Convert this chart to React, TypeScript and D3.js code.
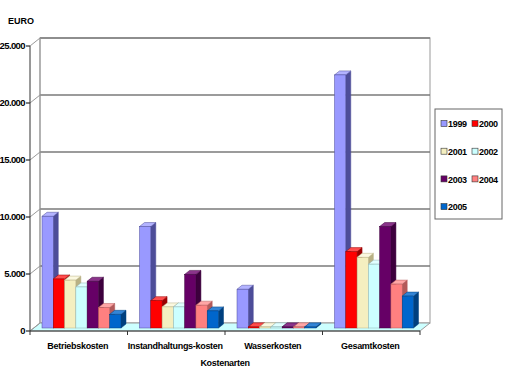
import React from "react";
import * as d3 from "d3";

const categories = ["Betriebskosten", "Instandhaltungs-kosten", "Wasserkosten", "Gesamtkosten"];
const years = ["1999", "2000", "2001", "2002", "2003", "2004", "2005"];
const v1999 = [9800, 8900, 3400, 22200];
const v2000 = [4300, 2400, 100, 6700];
const v2001 = [4200, 1850, 100, 6200];
const v2002 = [3600, 1850, 100, 5600];
const v2003 = [4100, 4700, 100, 8900];
const v2004 = [1800, 2000, 100, 3850];
const v2005 = [1200, 1500, 100, 2800];
const seriesValues = [v1999, v2000, v2001, v2002, v2003, v2004, v2005];
const yTicks = [0, 5000, 10000, 15000, 20000, 25000];
const tickLabels = ["0", "5.000", "10.000", "15.000", "20.000", "25.000"];

const colors = ["#9999FF", "#FF0000", "#F4EFC0", "#CCFFFF", "#660066", "#FF8080", "#0066CC"];
const sideColors = ["#4d4d99", "#990000", "#b8b184", "#8fb3b3", "#3d003d", "#b35a5a", "#00407f"];
const topColors = ["#b3b3ff", "#ff4d4d", "#fbf8e0", "#e0ffff", "#8a338a", "#ffa6a6", "#3385d6"];

const font = "'Liberation Sans', Arial, sans-serif";

export default function App() {
  const W = 506, H = 383;
  const x0 = 30, x1 = 420;
  const DX = 10, DY = -8; // wall depth
  const y = d3.scaleLinear().domain([0, 25000]).range([331, 46]);
  const xc = d3.scaleBand().domain(categories).range([x0, x1]).paddingInner(0).paddingOuter(0);
  const xs = d3.scaleBand().domain(years).range([12, 91]).padding(0);
  const bdx = 5, bdy = -4; // bar depth
  const boff = -3; // bar baseline offset

  const bars: React.ReactNode[] = [];
  categories.forEach((c, ci) => {
    years.forEach((yr, si) => {
      const v = seriesValues[si][ci];
      const bx = (xc(c) as number) + (xs(yr) as number);
      const bw = xs.bandwidth();
      const yb = y(0) + boff;
      const yt = y(v) + boff;
      const stroke = sideColors[si];
      bars.push(
        <g key={c + yr}>
          <polygon
            points={`${bx + bw},${yb} ${bx + bw + bdx},${yb + bdy} ${bx + bw + bdx},${yt + bdy} ${bx + bw},${yt}`}
            fill={sideColors[si]}
            stroke={stroke}
            strokeWidth={0.5}
          />
          <polygon
            points={`${bx},${yt} ${bx + bdx},${yt + bdy} ${bx + bw + bdx},${yt + bdy} ${bx + bw},${yt}`}
            fill={topColors[si]}
            stroke={stroke}
            strokeWidth={0.5}
          />
          <rect x={bx} y={yt} width={bw} height={Math.max(0, yb - yt)} fill={colors[si]} stroke={stroke} strokeWidth={0.5} />
        </g>
      );
    });
  });

  return (
    <svg width={W} height={H} style={{ position: "absolute", left: 0, top: 0, background: "#fff" }}>
      {/* back wall */}
      <rect x={x0 + DX} y={y(25000) + DY} width={x1 - x0} height={y(0) - y(25000)} fill="#fff" stroke="#aaa" strokeWidth={1.2} />
      {/* floor */}
      <polygon
        points={`${x0},${y(0)} ${x1},${y(0)} ${x1 + DX},${y(0) + DY} ${x0 + DX},${y(0) + DY}`}
        fill="#CCFFFF"
        stroke="#999"
        strokeWidth={1}
      />
      {/* gridlines */}
      {yTicks.map((t) => (
        <g key={t}>
          {t > 0 && <line x1={x0 + DX} x2={x1 + DX} y1={y(t) + DY} y2={y(t) + DY} stroke="#7a7a7a" strokeWidth={1.3} />}
          <line x1={x0} x2={x0 + DX} y1={y(t)} y2={y(t) + DY} stroke="#999" strokeWidth={1} />
          <line x1={x0 - 4} x2={x0} y1={y(t)} y2={y(t)} stroke="#000" strokeWidth={1} />
        </g>
      ))}
      {/* left wall back edge */}
      <line x1={x0 + DX} x2={x0 + DX} y1={y(25000) + DY} y2={y(0) + DY} stroke="#999" strokeWidth={1} />
      {bars}
      {/* axes */}
      <line x1={x0} x2={x0} y1={y(25000)} y2={y(0)} stroke="#333" strokeWidth={1} />
      <line x1={x0} x2={x1} y1={y(0)} y2={y(0)} stroke="#333" strokeWidth={1} />
      {[...categories.map((c) => xc(c) as number), x1].map((xv, i) => (
        <line key={i} x1={xv} x2={xv} y1={y(0)} y2={y(0) + 4} stroke="#333" strokeWidth={1} />
      ))}
      {yTicks.map((t, i) => (
        <text key={t} x={x0 - 5} y={y(t)} dy="0.35em" textAnchor="end" fontFamily={font} fontWeight="bold" fontSize={9.5} letterSpacing={-0.6}>
          {tickLabels[i]}
        </text>
      ))}
      {categories.map((c) => (
        <text key={c} x={(xc(c) as number) + xc.bandwidth() / 2 - 1} y={349} textAnchor="middle" fontFamily={font} fontWeight="bold" fontSize={9} letterSpacing={-0.3}>
          {c}
        </text>
      ))}
      <text x={225} y={366} textAnchor="middle" fontFamily={font} fontWeight="bold" fontSize={9} letterSpacing={-0.3}>
        Kostenarten
      </text>
      <text x={8} y={24} fontFamily={font} fontWeight="bold" fontSize={9}>
        EURO
      </text>
      {/* legend */}
      <rect x={435} y={109} width={67} height={110} fill="#fff" stroke="#666" strokeWidth={1} />
      {years.map((yr, i) => {
        const col = i % 2;
        const row = Math.floor(i / 2);
        const lx = 442 + col * 31;
        const ly = 124 + row * 27.7;
        return (
          <g key={yr}>
            <rect x={lx - 1} y={ly - 3.5} width={6} height={6} fill={colors[i]} stroke="#333" strokeWidth={0.6} />
            <text x={lx + 6} y={ly} dy="0.35em" fontFamily={font} fontWeight="bold" fontSize={9} letterSpacing={-0.3}>
              {yr}
            </text>
          </g>
        );
      })}
    </svg>
  );
}
